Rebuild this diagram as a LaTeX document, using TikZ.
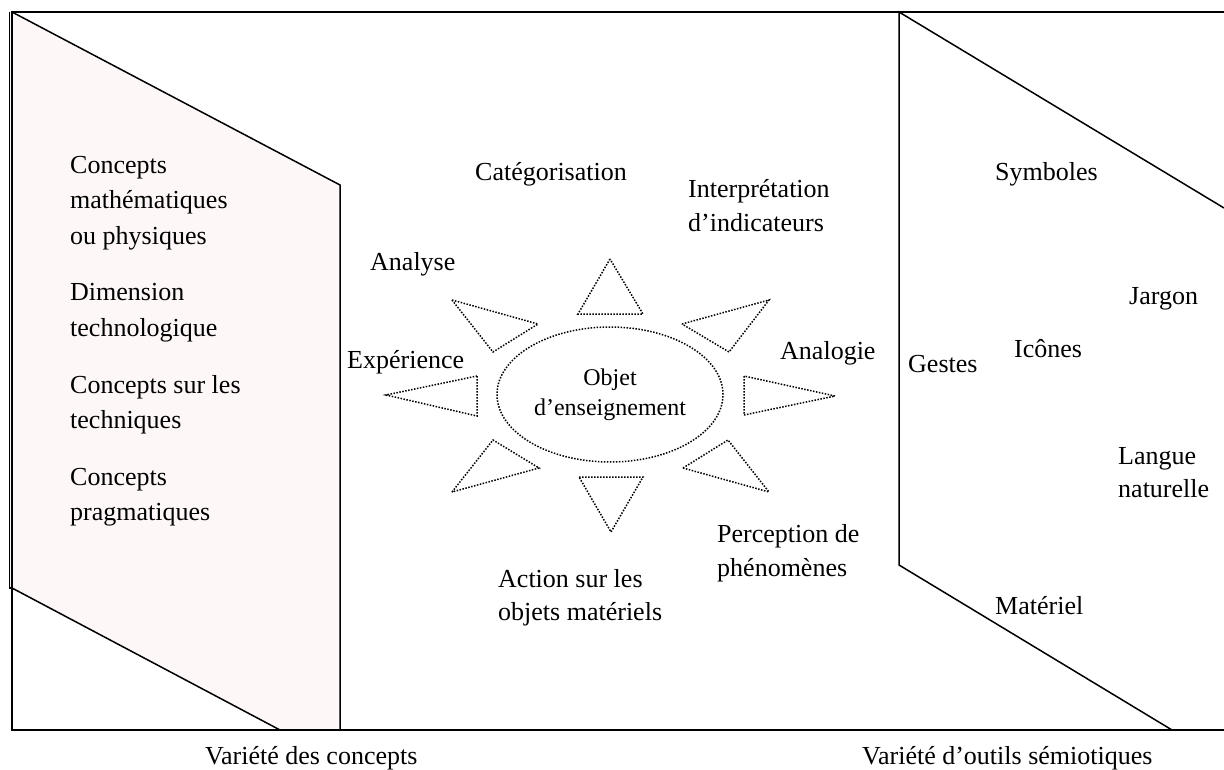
\documentclass[tikz,border=0pt]{standalone}
\usepackage{fontspec}
\setmainfont{Liberation Serif}
\usetikzlibrary{shapes.geometric}
\definecolor{panelpink}{RGB}{253,247,248}
\tikzset{
  lbl/.style={anchor=base west, inner sep=0pt, font=\fontsize{26}{35}\selectfont},
  boxline/.style={line width=1.8pt},
  panelline/.style={line width=1.5pt},
  dotline/.style={line width=1.5pt, dash pattern=on 1.5pt off 1.5pt},
}
\begin{document}
\begin{tikzpicture}[x=1pt,y=-1pt]
\useasboundingbox (0,0) rectangle (1224,770);
% left panel shading
\fill[panelpink] (9.5,12) -- (340,185) -- (340,730) -- (280,730) -- (9.5,588) -- cycle;
% main frame
\draw[boxline] (1224,12) -- (12,12) -- (12,730) -- (1224,730);
% left panel
\draw[panelline] (12,588) -- (9.5,588) -- (9.5,12);
\draw[panelline] (12,12) -- (340,185) -- (340,730);
\draw[panelline] (12,588) -- (280,730);
% right panel
\draw[panelline] (1224,208) -- (899,12) -- (899,565) -- (1172,730);

% left column texts
\node[lbl] (c1a) at (70,174) {Concepts};
\node[lbl] (c1b) at (70,209) {mathématiques};
\node[lbl] (c1c) at (70,244) {ou physiques};
\node[lbl] (c2a) at (70,301) {Dimension};
\node[lbl] (c2b) at (70,336) {technologique};
\node[lbl] (c3a) at (70,393) {Concepts sur les};
\node[lbl] (c3b) at (70,428) {techniques};
\node[lbl] (c4a) at (70,485) {Concepts};
\node[lbl] (c4b) at (70,520) {pragmatiques};

% centre
\node[ellipse, draw, dotline, minimum width=226pt, minimum height=135pt, inner sep=0pt,
      align=center, font=\fontsize{24}{30}\selectfont] (obj) at (610,394.5) {Objet\\d’enseignement};
\draw[dotline] (610,259) -- (578,314) -- (643,314) -- cycle;
\draw[dotline] (682,324) -- (769,300) -- (729,352) -- cycle;
\draw[dotline] (744,376) -- (744,415) -- (835,396) -- cycle;
\draw[dotline] (683,468) -- (728,440) -- (769,492) -- cycle;
\draw[dotline] (579,477) -- (643,477) -- (611,532) -- cycle;
\draw[dotline] (452,492) -- (493,440) -- (539,468) -- cycle;
\draw[dotline] (477,376) -- (477,416) -- (386,395) -- cycle;
\draw[dotline] (452,300) -- (538,324) -- (493,352) -- cycle;

\node[lbl] (cat) at (475,181) {Catégorisation};
\node[lbl] (int1) at (688,198) {Interprétation};
\node[lbl] (int2) at (688,232) {d’indicateurs};
\node[lbl] (ana) at (370,271) {Analyse};
\node[lbl] (exp) at (347,368) {Expérience};
\node[lbl] (alg) at (780,359) {Analogie};
\node[lbl] (per1) at (717,542) {Perception de};
\node[lbl] (per2) at (717,576) {phénomènes};
\node[lbl] (act1) at (498,587) {Action sur les};
\node[lbl] (act2) at (498,620) {objets matériels};

% right texts
\node[lbl] (sym) at (995,181) {Symboles};
\node[lbl] (jar) at (1129,305) {Jargon};
\node[lbl] (ico) at (1014,357) {Icônes};
\node[lbl] (ges) at (908,372) {Gestes};
\node[lbl] (lan1) at (1118,464) {Langue};
\node[lbl] (lan2) at (1118,497) {naturelle};
\node[lbl] (mat) at (995,614) {Matériel};

% bottom captions
\node[lbl] (varc) at (205,764) {Variété des concepts};
\node[lbl] (varo) at (862,764) {Variété d’outils sémiotiques};
\end{tikzpicture}
\end{document}
